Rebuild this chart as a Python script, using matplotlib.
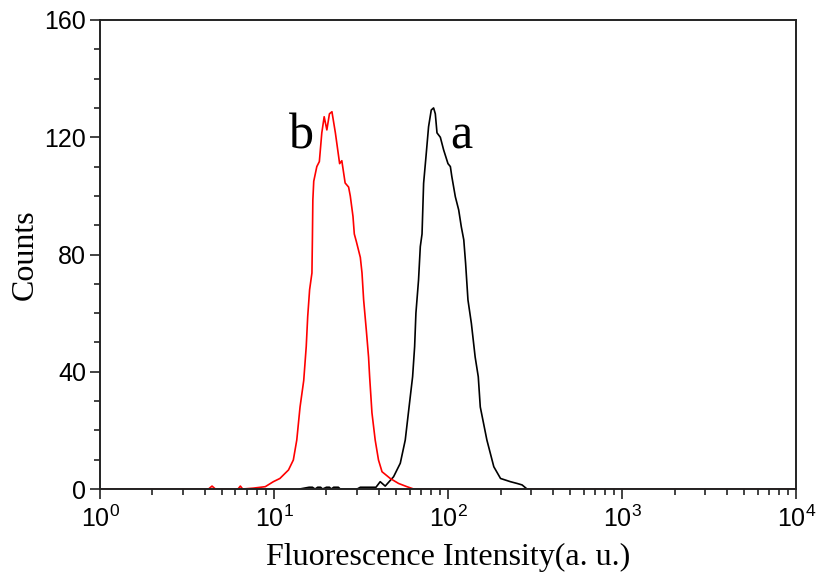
import matplotlib
matplotlib.use("Agg")
import matplotlib.pyplot as plt
from matplotlib.ticker import LogLocator, MultipleLocator, NullFormatter

plt.rcParams["font.family"] = ["Liberation Sans", "DejaVu Sans"]
plt.rcParams["mathtext.fontset"] = "custom"
plt.rcParams["mathtext.rm"] = "Liberation Sans"

# Histogram b (red): intensity (a. u.) vs counts
red_x = [1, 4.2, 4.4, 4.6, 6.2, 6.4, 6.6, 7.6, 8.9, 9.9, 10.8, 12.1, 12.9,
         13.5, 14.1, 14.8, 15.3, 15.6, 16.0, 16.5, 16.6, 16.7, 16.9, 17.6,
         18.2, 18.8, 19.4, 20.1, 20.8, 21.5, 22.5, 23.8, 24.5, 25.6, 26.8,
         27.4, 28.4, 28.9, 29.7, 31.3, 32.0, 32.7, 33.9, 34.9, 35.4, 36.5,
         38.1, 39.8, 41.7, 46.5, 51.9, 58.0, 63.4, 10000]
red_y = [0, 0, 1, 0, 0, 1, 0, 0.3, 0.8, 2.5, 3.6, 6.5, 9.9,
         16.7, 28, 37, 48.6, 58.8, 68, 73.7, 85, 98.6, 105, 110,
         111.7, 121.5, 127, 122.5, 128, 128.7, 121.5, 111, 112, 104.4, 103,
         100, 93, 87, 84.4, 79, 73.7, 64.5, 54, 45, 38.3, 26,
         16.7, 9.9, 5.9, 3.6, 1.9, 0.8, 0, 0]

# Histogram a (black)
black_x = [14.0, 15.9, 16.6, 17.2, 17.8, 18.5, 19.0, 20.0, 20.8, 21.3, 22.0,
           23.4, 24.0, 30.0, 31.3, 38.5, 40.7, 43.5, 48.6, 53.1, 56.7, 60.6,
           62.5, 64.2, 65.3, 67.6, 69.2, 70.8, 72.3, 74.6, 77.2, 80.0, 82.5,
           84.4, 86.3, 90.2, 94.2, 99.8, 103, 105, 110, 115, 119, 123, 126,
           130, 136, 143, 149, 153, 167, 183, 200, 228, 249, 266, 284]
black_y = [0, 0.6, 0.6, 0, 0.6, 0.6, 0, 0.6, 0.6, 0, 0.6,
           0.6, 0, 0, 0.6, 0.6, 2.5, 1, 4.2, 8.8, 16.7, 31.5,
           38.3, 48.6, 60, 71.3, 82.7, 87, 104.3, 113.4, 123.6, 129.3, 130,
           128, 121.5, 120, 115.7, 111, 110, 106.6, 99.7, 95.2, 89.5, 85, 77,
           64.5, 56.5, 45, 38.3, 28, 16.7, 7.6, 3.6, 2.5, 1.9, 1.4, 0]

fig = plt.figure(figsize=(8.2, 5.83), dpi=100)
ax = fig.add_axes([0.122, 0.1612, 0.849, 0.8045])

ax.plot(black_x, black_y, color="black", linewidth=1.2)
ax.plot(red_x, red_y, color="#ff0000", linewidth=1.2)

ax.set_xscale("log")
ax.set_xlim(1, 1e4)
ax.set_ylim(0, 160)
ax.yaxis.set_major_locator(MultipleLocator(40))
ax.yaxis.set_minor_locator(MultipleLocator(10))
ax.xaxis.set_major_locator(LogLocator(base=10, numticks=10))
ax.xaxis.set_minor_locator(LogLocator(base=10, subs=range(2, 10), numticks=20))
ax.xaxis.set_minor_formatter(NullFormatter())

ax.tick_params(which="major", direction="out", length=7, width=1.2,
               labelsize=18, pad=3, color="#222222")
ax.tick_params(axis="x", which="major", pad=5)
ax.tick_params(which="minor", direction="out", length=4, width=1.2,
               color="#222222")
for s in ax.spines.values():
    s.set_linewidth(1.4)
    s.set_color("#222222")

ax.set_xlabel("Fluorescence Intensity(a. u.)", fontsize=23,
              family="Liberation Serif", labelpad=8)
ax.set_ylabel("Counts", fontsize=23, family="Liberation Serif", labelpad=3)

ax.text(14.3, 116, "b", fontsize=36, family="Liberation Serif",
        ha="center", va="baseline")
ax.text(119, 116, "a", fontsize=36, family="Liberation Serif",
        ha="center", va="baseline")

fig.savefig("out.png", dpi=100)
